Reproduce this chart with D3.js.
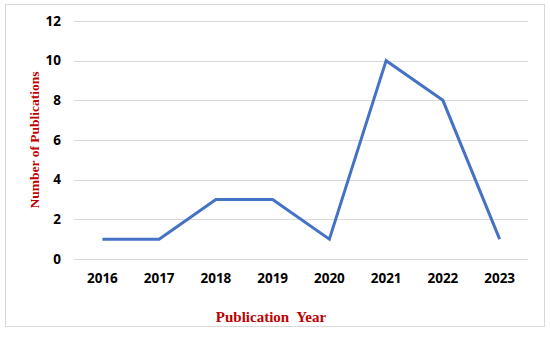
<!DOCTYPE html>
<html><head><meta charset="utf-8">
<script src="https://cdn.jsdelivr.net/npm/d3@7"></script>
<style>body{margin:0;background:#fff}svg{display:block}</style>
</head><body>
<script>
const years = ["2016","2017","2018","2019","2020","2021","2022","2023"];
const publications = [1,1,3,3,1,10,8,1];
const yTicks = [0,2,4,6,8,10,12];

const W=550,H=338;
const svg=d3.select("body").append("svg").attr("width",W).attr("height",H);
svg.append("rect").attr("x",5.5).attr("y",4.5).attr("width",539).attr("height",322)
  .attr("fill","#fff").attr("stroke","#d9d9d9");

const x=d3.scaleBand().domain(years).range([74,528]);
const y=d3.scaleLinear().domain([0,12]).range([259,21]);

const g=svg.append("g");
g.selectAll("line.grid").data(yTicks).join("line")
  .attr("x1",74).attr("x2",528)
  .attr("y1",d=>Math.round(y(d))+0.5).attr("y2",d=>Math.round(y(d))+0.5)
  .attr("stroke","#d9d9d9").attr("stroke-width",1);

const yAxis=svg.append("g").attr("transform","translate(61,0)")
  .call(d3.axisLeft(y).tickValues(yTicks).tickSize(0).tickPadding(0));
yAxis.select(".domain").remove();
yAxis.selectAll("text").attr("font-family","'Open Sans', 'Liberation Sans', sans-serif")
  .attr("font-weight","bold").attr("font-size","13.5px").attr("fill","#000");

const xAxis=svg.append("g").attr("transform","translate(0,273)")
  .call(d3.axisBottom(x).tickSize(0).tickPadding(0));
xAxis.select(".domain").remove();
xAxis.selectAll("text").attr("font-family","'Open Sans', 'Liberation Sans', sans-serif")
  .attr("font-weight","bold").attr("font-size","13.5px").attr("fill","#000");

const line=d3.line().x((d,i)=>x(years[i])+x.bandwidth()/2).y(d=>y(d));
svg.append("path").datum(publications).attr("d",line)
  .attr("fill","none").attr("stroke","#4472c4").attr("stroke-width",3)
  .attr("stroke-linejoin","miter");

svg.append("text").attr("transform","translate(38.5,140) rotate(-90)")
  .attr("text-anchor","middle").attr("font-family","'Liberation Serif', 'Times New Roman', serif")
  .attr("font-weight","bold").attr("font-size","13.5px").attr("fill","#c00000")
  .text("Number of Publications");
svg.append("text").attr("x",271).attr("y",321.5)
  .attr("text-anchor","middle").attr("font-family","'Liberation Serif', 'Times New Roman', serif")
  .attr("font-weight","bold").attr("font-size","15px").attr("fill","#c00000")
  .style("white-space","pre")
  .text("Publication  Year");
</script>
</body></html>
